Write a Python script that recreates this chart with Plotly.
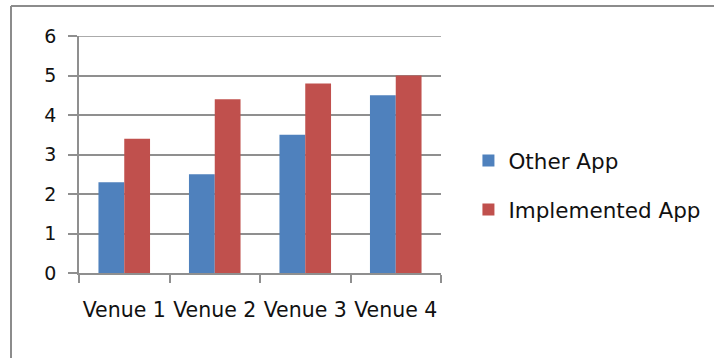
import plotly.graph_objects as go

categories = ["Venue 1", "Venue 2", "Venue 3", "Venue 4"]
other_app = [2.3, 2.5, 3.5, 4.5]
implemented_app = [3.4, 4.4, 4.8, 5.0]
series_names = ["Other App", "Implemented App"]
y_ticks = [0, 1, 2, 3, 4, 5, 6]

W, H = 714, 358
L, R, T, B = 79, 273, 36, 85
pw = W - L - R
ph = H - T - B

fig = go.Figure()
fig.add_trace(go.Bar(x=categories, y=other_app, name=series_names[0],
                     marker=dict(color="#4F81BD", line=dict(width=0)),
                     legendgroup="a"))
fig.add_trace(go.Bar(x=categories, y=implemented_app, name=series_names[1],
                     marker=dict(color="#C0504D", line=dict(width=0)),
                     legendgroup="b"))

font = dict(family="DejaVu Sans", size=19, color="#111111")
xfont = dict(family="DejaVu Sans", size=20.5, color="#111111")
axis_col = "#8f8f8f"

fig.update_layout(
    width=W, height=H,
    margin=dict(l=L, r=R, t=T, b=B, pad=0, autoexpand=False),
    paper_bgcolor="white", plot_bgcolor="white",
    barmode="group", bargap=0.43, bargroupgap=0,
    font=font,
    showlegend=True,
    legend=dict(x=(484 - 79) / pw - 0.043, y=(273 - 185) / ph,
                xanchor="left", yanchor="middle",
                font=dict(family="DejaVu Sans", size=21.5, color="#111111"),
                tracegroupgap=18, bgcolor="rgba(0,0,0,0)"),
    xaxis=dict(type="category", showline=True, linecolor=axis_col, linewidth=1.5,
               ticks="outside", tickson="boundaries", ticklen=8, tickcolor=axis_col,
               tickwidth=1.5,
               showgrid=False, tickfont=xfont, ticklabelstandoff=18,
               tickangle=0, automargin=False),
    yaxis=dict(range=[y_ticks[0], y_ticks[-1]], tickvals=y_ticks, showline=True,
               linecolor=axis_col,
               linewidth=1.5, ticks="outside", ticklen=9, tickcolor=axis_col,
               tickwidth=1.5,
               showgrid=True, gridcolor=axis_col, gridwidth=1.5, zeroline=False,
               tickfont=font, ticklabelstandoff=8, automargin=False),
)

# top gridline at the last tick value (plotly hides the grid line on the range edge)
fig.add_shape(type="line", xref="paper", yref="y", x0=0, x1=1,
              y0=y_ticks[-1], y1=y_ticks[-1], layer="below",
              line=dict(color=axis_col, width=1.5))

# outer chart frame (left and top edges visible)
fx = (11 - L) / pw
fy = (H - B - 6) / ph
fig.add_shape(type="line", xref="paper", yref="paper", x0=fx, x1=fx, y0=-0.5, y1=fy,
              line=dict(color="#8c8c8c", width=2))
fig.add_shape(type="line", xref="paper", yref="paper", x0=fx, x1=3, y0=fy, y1=fy,
              line=dict(color="#8c8c8c", width=2))

fig.write_html("out.html")
